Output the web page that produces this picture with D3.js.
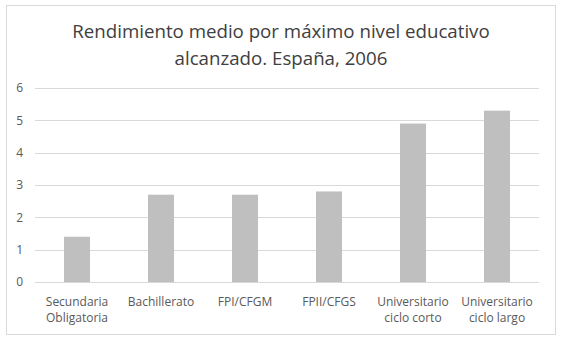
<!DOCTYPE html>
<html>
<head>
<meta charset="utf-8">
<script src="https://cdn.jsdelivr.net/npm/d3@7"></script>
<style>
  body { margin: 0; background: #fff; }
  text { font-family: "Open Sans", "Noto Sans", sans-serif; }
</style>
</head>
<body>
<div id="chart"></div>
<script>
const categories = [
  ["Secundaria", "Obligatoria"],
  ["Bachillerato"],
  ["FPI/CFGM"],
  ["FPII/CFGS"],
  ["Universitario", "ciclo corto"],
  ["Universitario", "ciclo largo"]
];
const values = [1.4, 2.7, 2.7, 2.8, 4.9, 5.3];
const yTicks = [0, 1, 2, 3, 4, 5, 6];
const titleLines = ["Rendimiento medio por máximo nivel educativo", "alcanzado. España, 2006"];

const width = 562, height = 344;
const margin = { top: 88, right: 23, bottom: 62, left: 35 };

const svg = d3.select("#chart").append("svg")
  .attr("width", width)
  .attr("height", height);

// outer frame
svg.append("rect")
  .attr("x", 6.5).attr("y", 5.5)
  .attr("width", 549).attr("height", 329)
  .attr("fill", "#fff")
  .attr("stroke", "#d9d9d9");

const x = d3.scaleBand()
  .domain(d3.range(categories.length))
  .range([margin.left, width - margin.right])
  .paddingInner(0.69)
  .paddingOuter(0.345);

const y = d3.scaleLinear()
  .domain([0, 6])
  .range([height - margin.bottom, margin.top]);

// gridlines
svg.append("g")
  .selectAll("line")
  .data(yTicks)
  .join("line")
  .attr("x1", margin.left)
  .attr("x2", width - margin.right)
  .attr("y1", d => Math.round(y(d)) + 0.5)
  .attr("y2", d => Math.round(y(d)) + 0.5)
  .attr("stroke", "#d9d9d9");

// y labels
svg.append("g")
  .selectAll("text")
  .data(yTicks)
  .join("text")
  .attr("x", 23)
  .attr("y", d => y(d))
  .attr("dy", "0.35em")
  .attr("text-anchor", "end")
  .attr("fill", "#595959")
  .style("font-size", "12px")
  .text(d => d);

// bars
svg.append("g")
  .selectAll("rect")
  .data(values)
  .join("rect")
  .attr("x", (d, i) => x(i))
  .attr("width", x.bandwidth())
  .attr("y", d => y(d))
  .attr("height", d => y(0) - y(d))
  .attr("fill", "#bfbfbf");

// x labels
const xl = svg.append("g")
  .selectAll("text")
  .data(categories)
  .join("text")
  .attr("text-anchor", "middle")
  .attr("fill", "#595959")
  .style("font-size", "12px");
xl.selectAll("tspan")
  .data((d, i) => d.map(s => ({ s, i })))
  .join("tspan")
  .attr("x", d => x(d.i) + x.bandwidth() / 2)
  .attr("y", (d, j) => 306 + j * 16)
  .text(d => d.s);

// title
svg.append("text")
  .attr("text-anchor", "middle")
  .attr("fill", "#404040")
  .style("font-size", "18.7px")
  .selectAll("tspan")
  .data(titleLines)
  .join("tspan")
  .attr("x", width / 2)
  .attr("y", (d, i) => 38 + i * 26.5)
  .text(d => d);
</script>
</body>
</html>
